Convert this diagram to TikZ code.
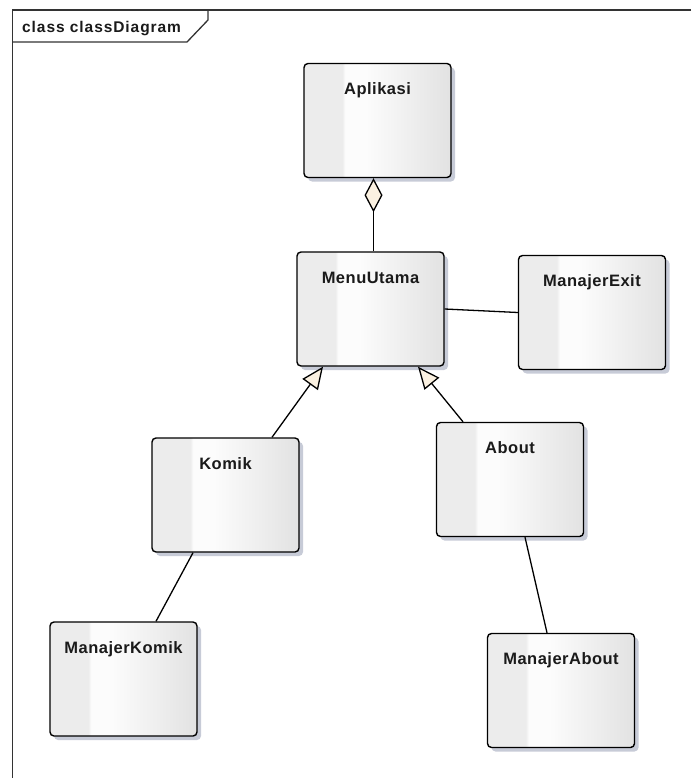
\documentclass[tikz,border=0pt]{standalone}
\usepackage{fontspec}
\setmainfont{Liberation Sans}
\usetikzlibrary{arrows.meta,shadows}

\definecolor{boxl}{HTML}{ECECEC}
\definecolor{boxw}{HTML}{FCFCFC}
\definecolor{boxr}{HTML}{E2E2E2}
\definecolor{shadowc}{HTML}{C7CBD7}
\definecolor{cream}{HTML}{FBF1E1}
\definecolor{framec}{HTML}{333333}
\definecolor{textc}{HTML}{1A1A1A}

% left-to-right sheen of a class box (the box spans 25bp..75bp)
\pgfdeclarehorizontalshading{boxshade}{100bp}{%
  color(0bp)=(boxl); color(25bp)=(boxl); color(38bp)=(boxl);
  color(39bp)=(boxw); color(46bp)=(boxw); color(75bp)=(boxr); color(100bp)=(boxr)}

\begin{document}
\begin{tikzpicture}[x=1pt,y=-1pt,
  classbox/.style={draw=black, line width=1.4pt, rounded corners=4pt,
    minimum width=147pt, minimum height=114pt, inner sep=0pt,
    shading=boxshade,
    drop shadow={shadow xshift=4pt, shadow yshift=-4pt, fill=shadowc, opacity=1}},
  classname/.style={anchor=base, inner sep=0pt, text=textc,
    font=\bfseries\fontsize{16.5}{18}\selectfont\addfontfeatures{LetterSpace=3}},
  link/.style={draw=black, line width=1.3pt},
  generalization/.style={link, -{Triangle[fill=cream, length=22pt, width=19pt]}},
  aggregation/.style={link, {Diamond[fill=cream, length=34pt, width=18pt]}-},
  framestroke/.style={draw=framec, line width=1.3pt}
]
\useasboundingbox (0,0) rectangle (691,778);

% diagram frame with its name tab
\draw[framestroke] (691,10) -- (12.5,10) -- (12.5,778);
\draw[framestroke] (12.5,42) -- (187,42) -- (208,20) -- (208,10);
\node[anchor=base west, inner sep=0pt, text=textc,
  font=\bfseries\fontsize{15.5}{18}\selectfont\addfontfeatures{LetterSpace=6}]
  (frameLabel) at (22,33) {class classDiagram};

% classes
\node[classbox] (aplikasi) at (377.5,120.5) {};
\node[classname] (aplikasiName) at ([yshift=-32pt]aplikasi.north) {Aplikasi};

\node[classbox] (menu) at (370.5,309) {};
\node[classname] (menuName) at ([yshift=-32pt]menu.north) {MenuUtama};

\node[classbox] (exit) at (592,312.5) {};
\node[classname] (exitName) at ([yshift=-32pt]exit.north) {ManajerExit};

\node[classbox] (komik) at (225.5,495) {};
\node[classname] (komikName) at ([yshift=-32pt]komik.north) {Komik};

\node[classbox] (about) at (510,479.5) {};
\node[classname] (aboutName) at ([yshift=-32pt]about.north) {About};

\node[classbox] (mkomik) at (123.5,679) {};
\node[classname] (mkomikName) at ([yshift=-32pt]mkomik.north) {ManajerKomik};

\node[classbox] (mabout) at (561,690.5) {};
\node[classname] (maboutName) at ([yshift=-32pt]mabout.north) {ManajerAbout};

% relationships
\draw[aggregation] ([xshift=-4pt]aplikasi.south) -- ([xshift=3pt]menu.north);
\draw[link] (menu.east) -- (exit.west);
\draw[generalization] ([xshift=46.5pt]komik.north) -- ([xshift=-47.5pt]menu.south);
\draw[generalization] ([xshift=-47pt]about.north) -- ([xshift=47.5pt]menu.south);
\draw[link] ([xshift=-32.5pt]komik.south) -- ([xshift=32.5pt]mkomik.north);
\draw[link] ([xshift=15pt]about.south) -- ([xshift=-14pt]mabout.north);
\end{tikzpicture}
\end{document}
